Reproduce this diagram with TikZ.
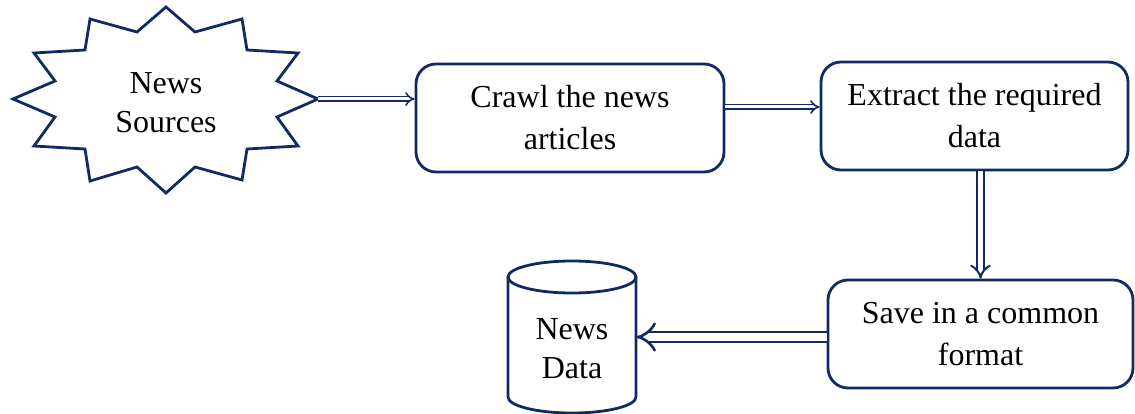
\documentclass[tikz,border=0pt]{standalone}
\usepackage{fontspec}
\setmainfont{Liberation Serif}
\usetikzlibrary{arrows.meta,calc}
\definecolor{navy}{RGB}{16,42,100}
\tikzset{
  box/.style={draw=navy, line width=2.8pt, rounded corners=20pt, align=center,
    font=\fontsize{32}{40}\selectfont, inner sep=0pt},
  lbl/.style={align=center, font=\fontsize{32}{39}\selectfont, inner sep=0pt},
  dbl/.style={draw=navy, line width=1.6pt, double=white, double distance=3pt, -{Implies[scale=1.15]}},
  shp/.style={draw=navy, line width=2.8pt, line join=miter}
}
\begin{document}
\begin{tikzpicture}[x=1pt,y=-1pt]
\useasboundingbox (0,0) rectangle (1135,414);
% starburst
\draw[shp, fill=white] (166,7) -- (195,32) -- (242,19) -- (247,50) -- (298,53) -- (277,81)
  -- (318,99) -- (277,117) -- (298,146) -- (247,149) -- (242,180) -- (195,167)
  -- (166,193) -- (137,167) -- (90,181) -- (85,149) -- (34,146) -- (55,117)
  -- (13,99) -- (55,81) -- (34,53) -- (85,50) -- (90,19) -- (137,32) -- cycle;
\coordinate (tip) at (318,99);
\node[lbl] (src) at (166,103) {News\\Sources};
% boxes
\node[box, minimum width=308pt, minimum height=108pt] (crawl) at (570,118) {Crawl the news\\[2pt]articles};
\node[box, minimum width=307pt, minimum height=108pt] (extract) at (974.5,116) {Extract the required\\[2pt]data};
\node[box, minimum width=305pt, minimum height=108pt] (save) at (980.5,334) {Save in a common\\[2pt]format};
% cylinder
\draw[shp, fill=white] (508,277) -- (508,397) arc[start angle=180, end angle=360, x radius=64, y radius=-16]
  -- (636,277);
\draw[shp] (572,277) ellipse[x radius=64, y radius=16];
\node[lbl, minimum width=128pt, minimum height=100pt] (db) at (572,349) {News\\Data};
% connector end points
\coordinate (a2s) at ($(crawl.east)+(0,-11)$);
\coordinate (a4s) at ($(save.west)+(0,3)$);
% connectors
\draw[dbl] (tip) -- (tip -| crawl.west);
\draw[dbl] (a2s) -- (a2s -| extract.west);
\draw[dbl, line width=2pt, double distance=5pt] (extract.south -| save.north) -- (save.north);
\draw[dbl, line width=2.6pt, double distance=7.5pt] (a4s) -- (a4s -| db.east);
\end{tikzpicture}
\end{document}
